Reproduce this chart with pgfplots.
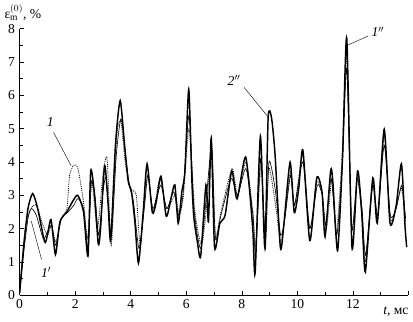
\documentclass[border=0pt]{standalone}
\usepackage{fontspec}
\setmainfont{Liberation Serif}
\usepackage{pgfplots}
\pgfplotsset{compat=1.18}
\begin{document}
\fontsize{13}{15}\selectfont
\begin{tikzpicture}
\begin{axis}[
  scale only axis, width=372pt, height=255pt,
  xmin=0, xmax=14, ymin=0, ymax=8,
  axis x line=bottom, axis y line=left,
  axis line style={-, line width=0.6pt},
  xtick={0,2,...,14}, xticklabels={0,2,4,6,8,10,12,},
  ytick={0,1,...,8},
  minor x tick num=1, minor y tick num=1,
  tick align=inside,
  major tick length=4pt, minor tick length=3pt,
  tick style={black, line width=0.5pt},
  /pgf/number format/assume math mode=true,
  ticklabel style={font=\fontsize{13}{15}\selectfont},
  clip=false,
]
% main thick solid
\addplot[black, line width=1.4pt, smooth, tension=0.4] coordinates {
(0,0.07)(0.15,1.5)(0.3,2.6)(0.47,3.05)(0.65,2.6)(0.9,1.6)(1.0,1.8)(1.13,2.27)(1.29,1.22)(1.45,2.2)(1.7,2.5)(1.9,2.8)(2.09,3.0)(2.3,2.5)(2.46,1.17)(2.56,3.73)(2.7,3.0)(2.83,1.54)(2.91,1.95)(3.06,3.89)(3.18,2.8)(3.28,1.64)(3.45,4.5)(3.62,5.84)(3.78,4.5)(3.91,3.42)(4.03,3.1)(4.15,2.2)(4.28,0.96)(4.45,2.5)(4.59,3.94)(4.78,2.48)(4.92,2.8)(5.09,3.57)(5.28,2.37)(5.45,2.9)(5.59,3.31)(5.71,2.16)(5.84,3.1)(5.95,3.7)(6.09,6.18)(6.2,3.5)(6.27,2.37)(6.4,1.6)(6.52,1.17)(6.71,3.31)(6.8,2.2)(6.9,4.72)(7.02,1.43)(7.21,2.16)(7.4,2.4)(7.64,3.73)(7.83,2.89)(8.14,4.15)(8.39,2.06)(8.48,0.65)(8.67,4.77)(8.83,1.43)(8.95,5.32)(9.07,5.33)(9.2,4.2)(9.39,1.43)(9.51,2.07)(9.74,3.99)(9.89,2.48)(10.05,3.2)(10.2,4.36)(10.45,1.64)(10.7,3.52)(10.89,3.1)(11.0,1.75)(11.2,3.73)(11.28,3.4)(11.45,1.33)(11.63,4.15)(11.78,7.72)(11.97,1.43)(12.17,3.73)(12.32,2.48)(12.45,0.7)(12.72,3.52)(12.88,2.16)(13.13,4.98)(13.34,2.16)(13.56,2.69)(13.75,3.94)(13.88,2.06)(13.94,1.44)
};
% thin solid 1'
\addplot[black, line width=0.6pt, smooth, tension=0.4] coordinates {
(0,0.05)(0.15,1.3)(0.3,2.3)(0.42,2.6)(0.6,2.4)(0.85,1.7)(1.0,1.9)(1.15,2.1)(1.3,1.5)(1.5,2.3)(1.75,2.5)(1.95,2.7)(2.1,2.9)(2.3,2.6)(2.47,1.4)(2.58,3.4)(2.72,2.9)(2.85,1.8)(3.0,3.1)(3.12,3.5)(3.3,1.8)(3.48,4.2)(3.65,5.3)(3.8,4.3)(3.95,3.3)(4.1,2.8)(4.3,1.4)(4.5,2.7)(4.62,3.6)(4.8,2.6)(5.08,3.3)(5.3,2.6)(5.55,3.1)(5.72,2.4)(5.88,3.0)(6.1,5.4)(6.28,2.6)(6.52,1.4)(6.73,3.0)(6.92,4.4)(7.05,1.7)(7.25,2.4)(7.62,3.5)(7.85,3.0)(8.15,3.8)(8.4,2.4)(8.5,1.2)(8.68,4.1)(8.85,1.7)(8.98,4.0)(9.2,3.2)(9.4,1.8)(9.55,2.3)(9.76,3.6)(9.9,2.7)(10.2,4.0)(10.45,2.0)(10.72,3.3)(10.9,3.0)(11.02,2.1)(11.22,3.5)(11.42,1.8)(11.62,3.9)(11.78,6.8)(11.96,2.0)(12.16,3.5)(12.33,2.6)(12.46,1.2)(12.72,3.3)(12.9,2.4)(13.13,4.5)(13.35,2.4)(13.56,2.6)(13.76,3.3)(13.9,2.3)
};
% dotted 1
\addplot[black, line width=0.8pt, densely dotted, smooth, tension=0.4] coordinates {
(0,0.1)(0.2,2.0)(0.4,2.6)(0.6,2.7)(0.8,2.2)(1.0,1.8)(1.15,2.1)(1.3,1.6)(1.5,2.3)(1.7,2.6)(1.8,3.6)(1.95,3.9)(2.1,3.8)(2.3,2.8)(2.45,1.7)(2.6,3.4)(2.8,2.0)(3.0,3.6)(3.15,4.1)(3.3,1.5)(3.5,4.8)(3.65,5.2)(3.8,4.0)(4.0,3.2)(4.2,3.0)(4.35,1.5)(4.6,3.6)(4.8,2.5)(5.05,3.5)(5.3,2.6)(5.6,3.0)(5.75,2.4)(5.9,3.0)(6.1,5.0)(6.3,2.6)(6.55,1.5)(6.75,2.8)(6.92,4.5)(7.05,1.8)(7.25,2.5)(7.65,3.8)(7.85,3.0)(8.15,4.0)(8.4,2.5)(8.5,1.5)(8.7,4.0)(8.85,1.4)(8.97,3.8)(9.2,2.8)(9.4,1.6)(9.55,2.3)(9.75,3.7)(9.9,2.7)(10.2,4.2)(10.45,2.0)(10.7,3.4)(10.9,3.0)(11.05,2.0)(11.25,3.5)(11.4,1.8)(11.6,4.0)(11.78,7.2)(11.95,2.0)(12.15,3.5)(12.3,2.6)(12.45,1.0)(12.7,3.3)(12.9,2.3)(13.13,4.8)(13.35,2.3)(13.55,2.6)(13.75,3.2)(13.9,2.2)
};
% annotations
\draw[line width=0.4pt] (axis cs:1.22,4.89) -- (axis cs:1.85,3.89);
\node[font=\itshape] at (axis cs:1.1,5.2) {1};
\draw[line width=0.4pt] (axis cs:0.79,1.07) -- (axis cs:0.42,2.22);
\node[font=\itshape] at (axis cs:0.95,0.68) {1$'$};
\draw[line width=0.4pt] (axis cs:8.08,6.24) -- (axis cs:8.95,5.35);
\node[font=\itshape] at (axis cs:7.72,6.45) {2$''$};
\draw[line width=0.4pt] (axis cs:12.55,7.78) -- (axis cs:11.82,7.51);
\node[font=\itshape] at (axis cs:12.9,7.91) {1$''$};
\node[anchor=base] at (axis cs:13.55,-0.58) {\textit{t}, мс};
\node[anchor=base west] at (rel axis cs:0,1) [xshift=-19pt, yshift=10pt] {ε$_{\mathrm{m}}^{(0)}$, \%};
\end{axis}
\end{tikzpicture}
\end{document}
